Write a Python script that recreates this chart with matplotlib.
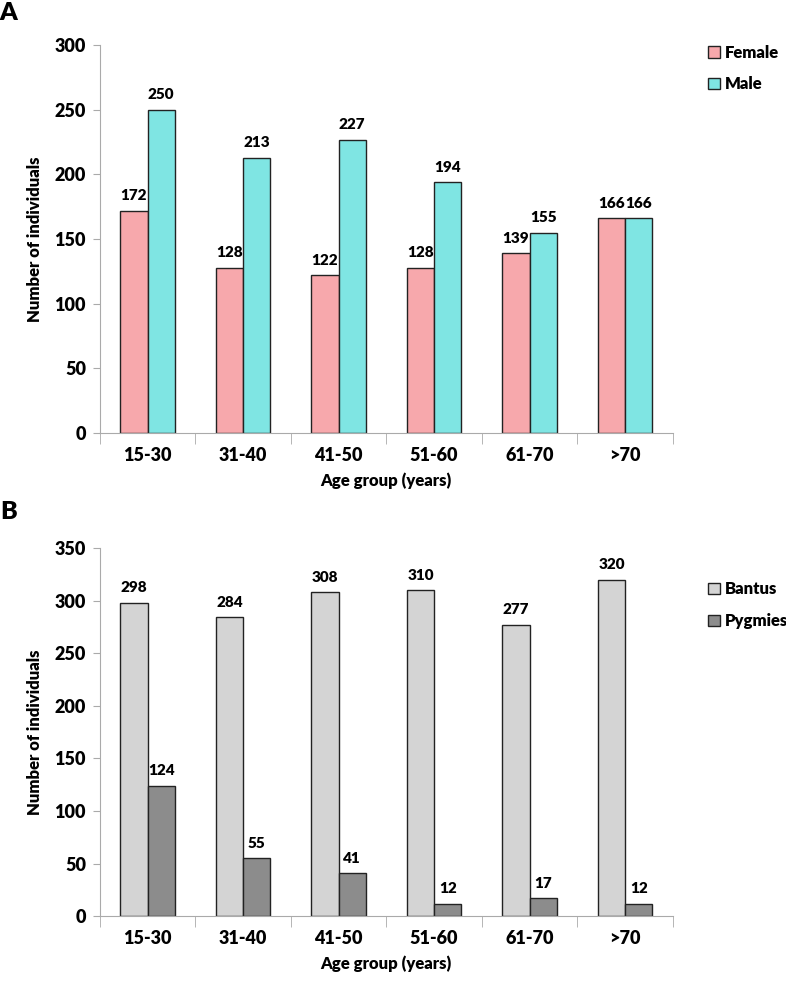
import matplotlib.pyplot as plt
import numpy as np

plt.rcParams['font.family'] = ['Lato', 'DejaVu Sans']
plt.rcParams['font.weight'] = 'bold'

groups = ['15-30', '31-40', '41-50', '51-60', '61-70', '>70']
female = [172, 128, 122, 128, 139, 166]
male = [250, 213, 227, 194, 155, 166]
bantus = [298, 284, 308, 310, 277, 320]
pygmies = [124, 55, 41, 12, 17, 12]


def panel(ax, a, b, names, colors, ymax, letter, leg_y, let_y):
    x = np.arange(len(groups))
    w = 0.285
    b1 = ax.bar(x - w/2, a, w, color=colors[0], edgecolor='#222222', linewidth=1, label=names[0])
    b2 = ax.bar(x + w/2, b, w, color=colors[1], edgecolor='#222222', linewidth=1, label=names[1])
    for bars in (b1, b2):
        for r in bars:
            ax.annotate(str(int(r.get_height())), (r.get_x() + r.get_width()/2, r.get_height()),
                        xytext=(0, 6), textcoords='offset points', ha='center', va='bottom',
                        fontsize=11, fontweight='heavy')
    ax.set_xlim(-0.5, len(groups) - 0.5)
    ax.set_ylim(0, ymax)
    ax.set_yticks(np.arange(0, ymax + 1, 50))
    ax.set_xticks(x)
    ax.set_xticklabels(groups, fontsize=13, fontweight='heavy')
    ax.set_xticks(np.arange(-0.5, len(groups)), minor=True)
    ax.tick_params(axis='x', which='major', length=0, pad=10)
    ax.tick_params(axis='x', which='minor', length=8, color='#aaaaaa')
    ax.tick_params(axis='y', length=5, color='#aaaaaa', labelsize=13, pad=5)
    for t in ax.get_yticklabels():
        t.set_fontweight('heavy')
    for s in ('top', 'right'):
        ax.spines[s].set_visible(False)
    ax.spines['left'].set_color('#aaaaaa')
    ax.spines['bottom'].set_color('#aaaaaa')
    ax.set_xlabel('Age group (years)', fontsize=12, fontweight='heavy', labelpad=6)
    ax.set_ylabel('Number of individuals', fontsize=12, fontweight='heavy', labelpad=8)
    ax.legend(loc='upper left', bbox_to_anchor=(1.035, leg_y), frameon=False,
              handlelength=0.7, handleheight=0.7, handletextpad=0.3, labelspacing=0.95,
              prop={'size': 12, 'weight': 'heavy'})
    ax.text(-0.16, let_y, letter, transform=ax.transAxes, fontsize=18, fontweight='heavy',
            ha='center', va='center')


fig = plt.figure(figsize=(7.86, 9.82), dpi=100)
ax1 = fig.add_axes([0.127, 0.559, 0.729, 0.395])
ax2 = fig.add_axes([0.127, 0.067, 0.729, 0.375])

panel(ax1, female, male, ['Female', 'Male'], ['#F7A8AC', '#7FE5E3'], 300, 'A', 1.04, 1.082)
panel(ax2, bantus, pygmies, ['Bantus', 'Pygmies'], ['#D4D4D4', '#8C8C8C'], 350, 'B', 0.95, 1.098)

fig.savefig('out.png', dpi=100)
